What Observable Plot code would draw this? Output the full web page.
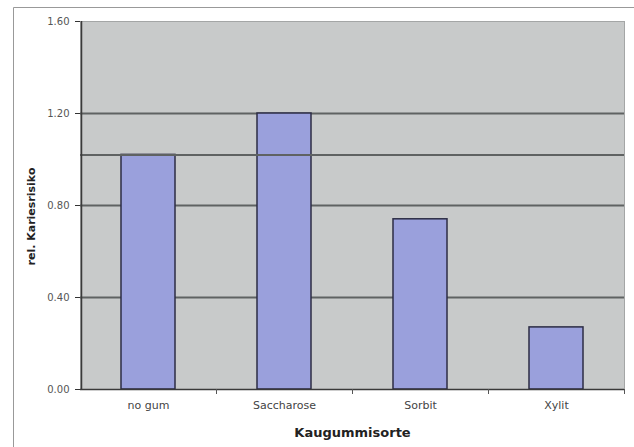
<!DOCTYPE html>
<html>
<head>
<meta charset="utf-8">
<script src="https://cdn.jsdelivr.net/npm/d3@7"></script>
<script src="https://cdn.jsdelivr.net/npm/@observablehq/plot@0.6"></script>
<style>
  html, body { margin: 0; padding: 0; background: #fff; }
  #chart { position: relative; width: 634px; height: 447px; }
</style>
</head>
<body>
<div id="chart"></div>
<script>
const categories = ["no gum", "Saccharose", "Sorbit", "Xylit"];
const values = [1.02, 1.20, 0.74, 0.27];
const yTicks = [0, 0.4, 0.8, 1.2, 1.6];
const gridValues = [0.4, 0.8, 1.2];
const referenceValue = [1.02];
const xTitle = "Kaugummisorte";
const yTitle = "rel. Kariesrisiko";

const data = categories.map((c, i) => ({cat: c, value: values[i]}));
const font = "DejaVu Sans, Liberation Sans, sans-serif";

const plot = Plot.plot({
  width: 634,
  height: 447,
  marginLeft: 80,
  marginRight: 10,
  marginTop: 21,
  marginBottom: 58,
  style: {fontFamily: font, fontSize: "10px", background: "transparent"},
  x: {domain: categories, paddingInner: 0.6, paddingOuter: 0.3, label: null},
  y: {domain: [0, 1.6], label: null},
  marks: [
    Plot.frame({fill: "#c8caca", stroke: "#a4a6a6"}),
    Plot.ruleY(gridValues, {stroke: "#5f6262", strokeWidth: 2}),
    Plot.barY(data, {x: "cat", y: "value", fill: "#9aa0dc", stroke: "#2c2c44", strokeWidth: 1.5}),
    Plot.ruleY(referenceValue, {stroke: "#5f6262", strokeWidth: 2}),
    Plot.ruleY([0], {stroke: "#3a3a3a", strokeWidth: 1.5}),
    Plot.ruleX(categories, {x: d => d, dx: 68, y1: 0, y2: 0, insetBottom: -5, stroke: "#555"}),
    Plot.ruleX([categories[0]], {x: d => d, dx: -67, stroke: "#3a3a3a", strokeWidth: 1.5}),
    Plot.axisY({ticks: yTicks, tickFormat: d3.format(".2f"), tickSize: 5, tickPadding: 6, fill: "#555", stroke: "#333", fontSize: 10, label: null}),
    Plot.axisX({tickSize: 0, tickPadding: 12, fill: "#444", fontSize: 11, label: null}),
    Plot.text([xTitle], {frameAnchor: "bottom", lineAnchor: "middle", dy: 43, fontWeight: "bold", fontSize: 13, fill: "#222"}),
    Plot.text([yTitle], {frameAnchor: "left", textAnchor: "middle", lineAnchor: "middle", dx: -49, dy: 11, rotate: -90, fontWeight: "bold", fontSize: 11, fill: "#222"})
  ]
});

document.getElementById("chart").appendChild(plot);

// outer chart-area border (Excel style)
const svg = d3.select(plot);
svg.append("line").attr("x1", 13.5).attr("y1", 7.5).attr("x2", 634).attr("y2", 7.5).attr("stroke", "#999");
svg.append("line").attr("x1", 13.5).attr("y1", 7.5).attr("x2", 13.5).attr("y2", 447).attr("stroke", "#999");
</script>
</body>
</html>
